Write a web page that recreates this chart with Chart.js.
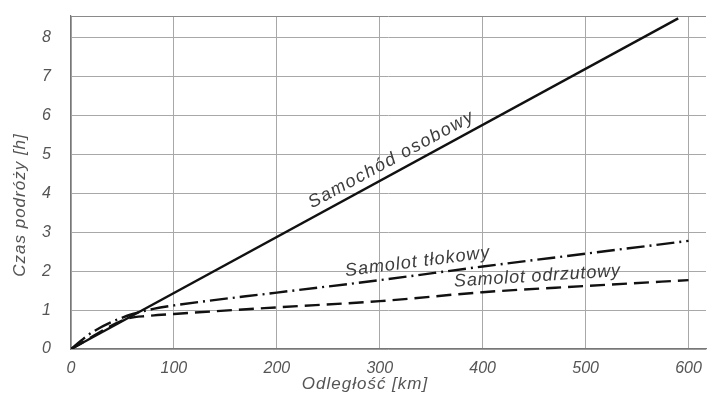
<!DOCTYPE html>
<html lang="pl">
<head>
<meta charset="UTF-8">
<script src="https://cdn.jsdelivr.net/npm/chart.js"></script>
<style>
    html, body { margin: 0; padding: 0; background: #fff; }
    #wrap { width: 710px; height: 393px; }
</style>
</head>
<body>
<div id="wrap"><canvas id="wykres"></canvas></div>
<script>
    // dane: odleglosc [km] i czas podrozy [h]
    const osobowyKm = [0, 590];
    const osobowyH = [0, 8.5];
    const tlokowyKm = [0, 10, 20, 40, 60, 80, 100, 200, 300, 400, 500, 600];
    const tlokowyH = [0, 0.22, 0.42, 0.7, 0.9, 1.03, 1.12, 1.45, 1.77, 2.12, 2.45, 2.78];
    const odrzutowyKm = [0, 55, 75, 100, 200, 300, 400, 500, 600];
    const odrzutowyH = [0, 0.78, 0.85, 0.9, 1.07, 1.23, 1.46, 1.62, 1.77];
    const xTicks = [0, 100, 200, 300, 400, 500, 600];
    const yTicks = [0, 1, 2, 3, 4, 5, 6, 7, 8];

    const nazwy = ['Samochód osobowy', 'Samolot tłokowy', 'Samolot odrzutowy'];
    // zakres [km] w ktorym lezy podpis nad linia
    const podpisOd = [238, 268, 373];
    const podpisDo = [397, 409, 535];

    const font = "'Liberation Sans', 'DejaVu Sans', sans-serif";
    const kolorTekstu = '#3c3c3c';

    function punkty(xs, ys) {
        return xs.map((x, i) => ({ x: x, y: ys[i] }));
    }

    function interp(xs, ys, x) {
        for (let i = 1; i < xs.length; i++) {
            if (x <= xs[i]) {
                const t = (x - xs[i - 1]) / (xs[i] - xs[i - 1]);
                return ys[i - 1] + t * (ys[i] - ys[i - 1]);
            }
        }
        return ys[ys.length - 1];
    }

    const serie = [[osobowyKm, osobowyH], [tlokowyKm, tlokowyH], [odrzutowyKm, odrzutowyH]];

    // podpisy wzdluz linii + tytuly osi + gorna ramka
    const podpisy = {
        id: 'podpisy',
        afterDraw(chart) {
            const ctx = chart.ctx;
            const sx = chart.scales.x;
            const sy = chart.scales.y;
            const a = chart.chartArea;

            ctx.save();
            ctx.strokeStyle = '#8a8a8a';
            ctx.lineWidth = 1;
            ctx.beginPath();
            ctx.moveTo(a.left, a.top + 0.5);
            ctx.lineTo(a.right, a.top + 0.5);
            ctx.stroke();

            ctx.fillStyle = kolorTekstu;
            ctx.font = 'italic 18px ' + font;
            for (let i = 0; i < nazwy.length; i++) {
                const xs = serie[i][0], ys = serie[i][1];
                const x1 = sx.getPixelForValue(podpisOd[i]);
                const y1 = sy.getPixelForValue(interp(xs, ys, podpisOd[i]));
                const x2 = sx.getPixelForValue(podpisDo[i]);
                const y2 = sy.getPixelForValue(interp(xs, ys, podpisDo[i]));
                const kat = Math.atan2(y2 - y1, x2 - x1);
                const dl = Math.hypot(x2 - x1, y2 - y1);
                ctx.save();
                ctx.letterSpacing = '0px';
                const w = ctx.measureText(nazwy[i]).width;
                ctx.letterSpacing = Math.max(0, (dl - w) / nazwy[i].length) + 'px';
                ctx.translate(x1, y1);
                ctx.rotate(kat);
                ctx.textAlign = 'left';
                ctx.textBaseline = 'alphabetic';
                ctx.fillText(nazwy[i], 0, -8);
                ctx.restore();
            }

            // tytuly osi
            ctx.fillStyle = '#555';
            ctx.font = 'italic 17px ' + font;
            ctx.textAlign = 'center';
            ctx.textBaseline = 'middle';
            ctx.letterSpacing = '1px';
            ctx.fillText('Odległość [km]', 365, 384);
            ctx.save();
            ctx.translate(20, 205);
            ctx.rotate(-Math.PI / 2);
            ctx.fillText('Czas podróży [h]', 0, 0);
            ctx.restore();
            ctx.restore();
        }
    };

    const ctx = document.getElementById('wykres').getContext('2d');
    const wykres = new Chart(ctx, {
        type: 'line',
        data: {
            datasets: [
                {
                    label: nazwy[0],
                    data: punkty(osobowyKm, osobowyH),
                    borderColor: '#111',
                    borderWidth: 2.4,
                    pointRadius: 0,
                    tension: 0
                },
                {
                    label: nazwy[1],
                    data: punkty(tlokowyKm, tlokowyH),
                    borderColor: '#111',
                    borderWidth: 2.4,
                    borderDash: [18, 5, 2, 5],
                    pointRadius: 0,
                    cubicInterpolationMode: 'monotone'
                },
                {
                    label: nazwy[2],
                    data: punkty(odrzutowyKm, odrzutowyH),
                    borderColor: '#111',
                    borderWidth: 2.4,
                    borderDash: [15, 7],
                    pointRadius: 0,
                    cubicInterpolationMode: 'monotone'
                }
            ]
        },
        options: {
            responsive: true,
            maintainAspectRatio: false,
            animation: false,
            layout: { padding: { top: 16, right: 4, left: 0, bottom: 0 } },
            plugins: {
                legend: { display: false },
                tooltip: { enabled: false }
            },
            scales: {
                x: {
                    type: 'linear',
                    min: 0,
                    max: 617,
                    afterBuildTicks: s => { s.ticks = xTicks.map(v => ({ value: v })); },
                    afterFit: s => { s.height = 44; s.paddingLeft = 0; s.paddingRight = 0; },
                    grid: { color: '#a8a8a8', lineWidth: 1, drawTicks: false },
                    border: { color: '#777', width: 1.2 },
                    ticks: {
                        color: '#555',
                        padding: 10,
                        maxRotation: 0,
                        font: { family: font, size: 16, style: 'italic' }
                    }
                },
                y: {
                    min: 0,
                    max: 8.56,
                    afterBuildTicks: s => { s.ticks = yTicks.map(v => ({ value: v })); },
                    afterFit: s => { s.width = 71; s.paddingTop = 0; s.paddingBottom = 0; },
                    grid: { color: '#a8a8a8', lineWidth: 1, drawTicks: false },
                    border: { color: '#777', width: 1.2 },
                    ticks: {
                        color: '#555',
                        padding: 20,
                        font: { family: font, size: 16, style: 'italic' }
                    }
                }
            }
        },
        plugins: [podpisy]
    });
</script>
</body>
</html>
